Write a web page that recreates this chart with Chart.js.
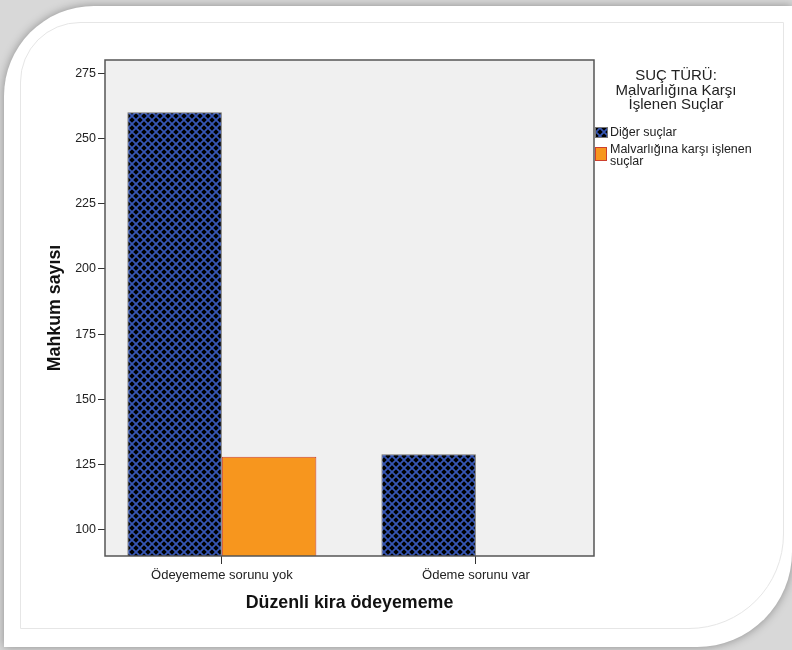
<!DOCTYPE html>
<html>
<head>
<meta charset="utf-8">
<script src="https://cdn.jsdelivr.net/npm/chart.js@4.4.1/dist/chart.umd.min.js"></script>
<style>
  html, body { margin: 0; padding: 0; }
  body { width: 792px; height: 650px; overflow: hidden; position: relative; background: #d8d8d8; }
  .card {
    position: absolute; left: 4px; top: 6px; width: 788px; height: 641px;
    background: #fff; border-radius: 90px 0 95px 0;
    box-shadow: 0 0 10px rgba(0, 0, 0, 0.35);
  }
  .inner {
    position: absolute; left: 20px; top: 22px; width: 762px; height: 605px;
    border: 1px solid #e6e6e6; border-radius: 60px 0 95px 0;
  }
  #chart { position: absolute; left: 0; top: 0; }
</style>
</head>
<body>
<div class="card"></div>
<div class="inner"></div>
<canvas id="chart" width="792" height="650"></canvas>
<script>
'use strict';

// data
let categories = ['Ödeyememe sorunu yok', 'Ödeme sorunu var'];
let seriesNames = ['Diğer suçlar', 'Malvarlığına karşı işlenen suçlar'];
let digerSuclar = [260, 129];
let malvarliginaKarsi = [128, null];
let yTicks = [100, 125, 150, 175, 200, 225, 250, 275];
let legendTitle = ['SUÇ TÜRÜ:', 'Malvarlığına Karşı', 'İşlenen Suçlar'];

Chart.defaults.font.family = "'Liberation Sans', Arial, sans-serif";
Chart.defaults.color = '#222';

let canvasElem = document.getElementById('chart');

// black with blue crosshatch, like the SPSS fill
function makePattern() {
  let c = document.createElement('canvas');
  c.width = 8;
  c.height = 8;
  let p = c.getContext('2d');
  p.fillStyle = '#000';
  p.fillRect(0, 0, 8, 8);
  p.strokeStyle = '#3656b4';
  p.lineWidth = 1.8;
  for (let o = -8; o <= 8; o += 8) {
    p.beginPath();
    p.moveTo(o, 0); p.lineTo(o + 8, 8);
    p.moveTo(o + 8, 0); p.lineTo(o, 8);
    p.stroke();
  }
  return canvasElem.getContext('2d').createPattern(c, 'repeat');
}
let hatch = makePattern();

function toPoints(arr) {
  return arr.map((v, i) => ({ x: i, y: v }));
}

let plotFrame = {
  id: 'plotFrame',
  beforeDatasetsDraw(chart) {
    let a = chart.chartArea;
    let ctx = chart.ctx;
    ctx.save();
    ctx.fillStyle = '#f0f0f0';
    ctx.fillRect(a.left, a.top, a.right - a.left, a.bottom - a.top);
    ctx.restore();
  },
  afterDatasetsDraw(chart) {
    let a = chart.chartArea;
    let ctx = chart.ctx;
    ctx.save();
    ctx.strokeStyle = '#555';
    ctx.lineWidth = 1.5;
    ctx.strokeRect(a.left, a.top, a.right - a.left, a.bottom - a.top);
    ctx.restore();
  }
};

// legend on the right, with a wrapped label
let sideLegend = {
  id: 'sideLegend',
  afterDraw(chart) {
    let ctx = chart.ctx;
    ctx.save();
    ctx.fillStyle = '#222';
    ctx.textBaseline = 'middle';
    ctx.textAlign = 'center';
    ctx.font = "15px 'Liberation Sans', Arial, sans-serif";
    legendTitle.forEach((t, i) => ctx.fillText(t, 676, 76 + i * 14.5));

    ctx.textAlign = 'left';
    ctx.font = "12.5px 'Liberation Sans', Arial, sans-serif";
    // item 1
    ctx.fillStyle = hatch;
    ctx.fillRect(595, 127, 13, 11);
    ctx.strokeStyle = '#777';
    ctx.lineWidth = 1;
    ctx.strokeRect(595.5, 127.5, 12, 10);
    ctx.fillStyle = '#222';
    ctx.fillText(chart.data.datasets[0].label, 610, 133);
    // item 2
    ctx.fillStyle = '#f7961e';
    ctx.fillRect(595, 147, 12, 14);
    ctx.strokeStyle = '#cc3f2e';
    ctx.strokeRect(595.5, 147.5, 11, 13);
    ctx.fillStyle = '#222';
    ctx.fillText('Malvarlığına karşı işlenen', 610, 150);
    ctx.fillText('suçlar', 610, 161.5);
    ctx.restore();
  }
};

let chartObj = {
  type: 'bar',
  data: {
    datasets: [
      {
        label: seriesNames[0],
        data: toPoints(digerSuclar),
        backgroundColor: hatch,
        borderColor: '#6f6f6f',
        borderWidth: 1
      },
      {
        label: seriesNames[1],
        data: toPoints(malvarliginaKarsi),
        backgroundColor: '#f7961e',
        borderColor: '#cc3f2e',
        borderWidth: 1
      }
    ]
  },
  options: {
    responsive: false,
    animation: false,
    categoryPercentage: 0.744,
    barPercentage: 1,
    layout: { padding: { left: 40, right: 198, top: 60, bottom: 32 } },
    plugins: {
      legend: { display: false },
      tooltip: { enabled: false }
    },
    scales: {
      x: {
        type: 'linear',
        offset: false,
        min: -0.46,
        max: 1.465,
        afterBuildTicks: s => { s.ticks = categories.map((c, i) => ({ value: i })); },
        afterFit: s => { s.height = 62; },
        ticks: {
          callback: v => categories[v],
          autoSkip: false,
          maxRotation: 0,
          padding: 4,
          font: { size: 13 }
        },
        grid: { offset: false, drawOnChartArea: false, tickLength: 8, tickColor: '#333' },
        border: { display: false },
        title: {
          display: true,
          text: 'Düzenli kira ödeyememe',
          font: { size: 17.8, weight: 'bold' },
          color: '#111'
        }
      },
      y: {
        min: 90,
        max: 280,
        afterBuildTicks: s => { s.ticks = yTicks.map(v => ({ value: v })); },
        afterFit: s => { s.width = 65; },
        ticks: { padding: 2, font: { size: 12.5 } },
        grid: { drawOnChartArea: false, tickLength: 7, tickColor: '#333' },
        border: { display: false },
        title: {
          display: true,
          text: 'Mahkum sayısı',
          font: { size: 17.8, weight: 'bold' },
          color: '#111'
        }
      }
    }
  },
  plugins: [plotFrame, sideLegend]
};

new Chart(canvasElem, chartObj);
</script>
</body>
</html>
